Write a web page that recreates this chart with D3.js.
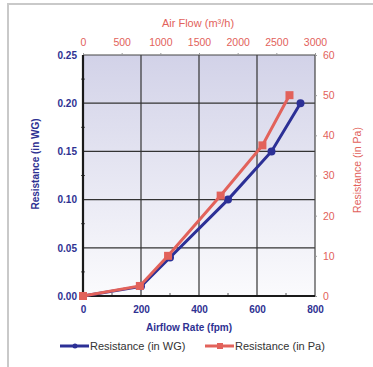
<!DOCTYPE html>
<html>
<head>
<meta charset="utf-8">
<script src="https://cdn.jsdelivr.net/npm/d3@7"></script>
<style>
  body { margin: 0; background: #fff; }
  svg { display: block; font-family: "Liberation Sans", Arial, sans-serif; }
</style>
</head>
<body>
<div id="chart"></div>
<script>
// airflow in fpm vs resistance in inches water gauge
const fpm = [0, 200, 300, 500, 650, 750];
const wg = [0, 0.01, 0.04, 0.10, 0.15, 0.20];
// same curve in metric units
const m3h = [0, 735, 1100, 1780, 2320, 2670];
const pa = [0, 2.5, 10, 25, 37.5, 50];

const fpmTicks = [0, 200, 400, 600, 800];
const wgTicks = [0, 0.05, 0.10, 0.15, 0.20, 0.25];
const m3hTicks = [0, 500, 1000, 1500, 2000, 2500, 3000];
const paTicks = [0, 10, 20, 30, 40, 50, 60];

const width = 373, height = 367;
const m = { left: 83, right: 315, top: 55, bottom: 296 };
const blue = "#2c3096", red = "#e2625b", navyText = "#2e3192";

const svg = d3.select("#chart").append("svg")
  .attr("width", width)
  .attr("height", height);

// panel frame
svg.append("path")
  .attr("d", `M8,${height} V4 H${width}`)
  .attr("fill", "none")
  .attr("stroke", "#c9c9c9")
  .attr("stroke-width", 2);

const grad = svg.append("defs").append("linearGradient")
  .attr("id", "bg").attr("x1", 0).attr("y1", 0).attr("x2", 0).attr("y2", 1);
grad.append("stop").attr("offset", "0%").attr("stop-color", "#d2d2e8");
grad.append("stop").attr("offset", "100%").attr("stop-color", "#fbfbfd");

const x = d3.scaleLinear().domain([0, 800]).range([m.left, m.right]);
const y = d3.scaleLinear().domain([0, 0.25]).range([m.bottom, m.top]);
const x2 = d3.scaleLinear().domain([0, 3000]).range([m.left, m.right]);
const y2 = d3.scaleLinear().domain([0, 60]).range([m.bottom, m.top]);

svg.append("rect")
  .attr("x", m.left).attr("y", m.top)
  .attr("width", m.right - m.left).attr("height", m.bottom - m.top)
  .attr("fill", "url(#bg)");

// grid
svg.append("g").selectAll("line")
  .data(fpmTicks.slice(1, -1))
  .join("line")
  .attr("x1", d => x(d)).attr("x2", d => x(d))
  .attr("y1", m.top).attr("y2", m.bottom)
  .attr("stroke", "#333").attr("stroke-width", 1.2);
svg.append("g").selectAll("line")
  .data(wgTicks.slice(1, -1))
  .join("line")
  .attr("y1", d => y(d)).attr("y2", d => y(d))
  .attr("x1", m.left).attr("x2", m.right)
  .attr("stroke", "#333").attr("stroke-width", 1.2);

// top and right border (thin)
svg.append("path")
  .attr("d", `M${m.left},${m.top} H${m.right} V${m.bottom}`)
  .attr("fill", "none").attr("stroke", "#444").attr("stroke-width", 1.2);

// axes
const styleAxis = (g, color, bold, size) => {
  g.select(".domain").remove();
  g.selectAll("text")
    .attr("fill", color)
    .style("font-size", size)
    .style("font-weight", bold ? "bold" : "normal");
  g.selectAll(".tick line").attr("stroke", "#999");
};

svg.append("g")
  .attr("transform", `translate(0,${m.bottom})`)
  .call(d3.axisBottom(x).tickValues(fpmTicks).tickSize(0).tickPadding(10))
  .call(g => styleAxis(g, navyText, true, "10px"));

svg.append("g")
  .attr("transform", `translate(${m.left},0)`)
  .call(d3.axisLeft(y).tickValues(wgTicks).tickFormat(d3.format(".2f")).tickSize(0).tickPadding(6))
  .call(g => styleAxis(g, navyText, true, "10px"));

svg.append("g")
  .attr("transform", `translate(0,${m.top})`)
  .call(d3.axisTop(x2).tickValues(m3hTicks).tickFormat(d3.format("d")).tickSize(2).tickPadding(7))
  .call(g => styleAxis(g, red, false, "10.5px"));

svg.append("g")
  .attr("transform", `translate(${m.right},0)`)
  .call(d3.axisRight(y2).tickValues(paTicks).tickSize(2).tickPadding(6))
  .call(g => styleAxis(g, red, false, "10.5px"));

// minor ticks on left and bottom
svg.append("g").selectAll("line")
  .data([0.025, 0.075, 0.125, 0.175, 0.225])
  .join("line")
  .attr("x1", m.left - 2).attr("x2", m.left + 2)
  .attr("y1", d => y(d)).attr("y2", d => y(d))
  .attr("stroke", "#555");
svg.append("g").selectAll("line")
  .data([100, 300, 500, 700])
  .join("line")
  .attr("x1", d => x(d)).attr("x2", d => x(d))
  .attr("y1", m.bottom - 3).attr("y2", m.bottom + 1)
  .attr("stroke", "#555");

// thick left and bottom axis lines
svg.append("path")
  .attr("d", `M${m.left},${m.top} V${m.bottom} H${m.right}`)
  .attr("fill", "none").attr("stroke", "#1a1a1a").attr("stroke-width", 2.2);

// titles
svg.append("text")
  .attr("x", (m.left + m.right) / 2 - 1).attr("y", 27)
  .attr("text-anchor", "middle")
  .attr("fill", red).style("font-size", "11px")
  .text("Air Flow (m³/h)");

svg.append("text")
  .attr("x", (m.left + m.right) / 2 - 10).attr("y", 331)
  .attr("text-anchor", "middle")
  .attr("fill", navyText).style("font-size", "10px").style("font-weight", "bold")
  .text("Airflow Rate (fpm)");

svg.append("text")
  .attr("transform", "translate(39,164) rotate(-90)")
  .attr("text-anchor", "middle")
  .attr("fill", navyText).style("font-size", "10px").style("font-weight", "bold")
  .text("Resistance (in WG)");

svg.append("text")
  .attr("transform", "translate(361,170) rotate(-90)")
  .attr("text-anchor", "middle")
  .attr("fill", red).style("font-size", "10.5px")
  .text("Resistance (in Pa)");

// series
const wgData = fpm.map((v, i) => [v, wg[i]]);
const paData = m3h.map((v, i) => [v, pa[i]]);

svg.append("path")
  .datum(wgData)
  .attr("fill", "none").attr("stroke", blue).attr("stroke-width", 3)
  .attr("d", d3.line().x(d => x(d[0])).y(d => y(d[1])));
svg.append("g").selectAll("circle")
  .data(wgData)
  .join("circle")
  .attr("cx", d => x(d[0])).attr("cy", d => y(d[1]))
  .attr("r", 4).attr("fill", blue);

svg.append("path")
  .datum(paData)
  .attr("fill", "none").attr("stroke", red).attr("stroke-width", 3)
  .attr("d", d3.line().x(d => x2(d[0])).y(d => y2(d[1])));
svg.append("g").selectAll("rect")
  .data(paData)
  .join("rect")
  .attr("x", d => x2(d[0]) - 4).attr("y", d => y2(d[1]) - 4)
  .attr("width", 8).attr("height", 8).attr("fill", red);

// legend
const legend = [
  { label: "Resistance (in WG)", color: blue, x: 60, shape: "circle" },
  { label: "Resistance (in Pa)", color: red, x: 205, shape: "rect" }
];
const lg = svg.append("g").selectAll("g")
  .data(legend)
  .join("g")
  .attr("transform", d => `translate(${d.x},346)`);
lg.append("line")
  .attr("x1", 0).attr("x2", 29)
  .attr("stroke", d => d.color).attr("stroke-width", 3);
lg.filter(d => d.shape === "circle").append("circle")
  .attr("cx", 15).attr("r", 2.5).attr("fill", d => d.color);
lg.filter(d => d.shape === "rect").append("rect")
  .attr("x", 12).attr("y", -3).attr("width", 6).attr("height", 6).attr("fill", d => d.color);
lg.append("text")
  .attr("x", 30).attr("y", 4)
  .attr("fill", "#333").style("font-size", "11px")
  .text(d => d.label);
</script>
</body>
</html>
